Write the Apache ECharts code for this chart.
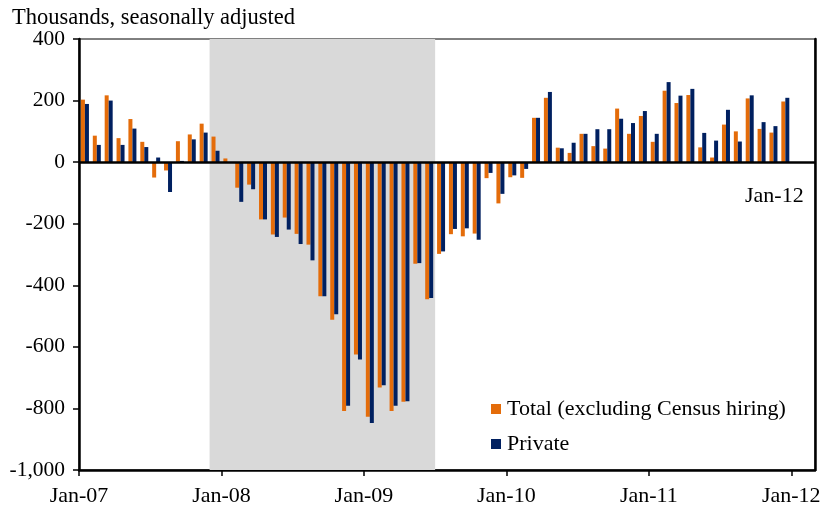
<!DOCTYPE html>
<html>
<head>
<meta charset="utf-8">
<script src="https://cdn.jsdelivr.net/npm/echarts@6/dist/echarts.min.js"></script>
<style>
html,body{margin:0;padding:0;background:#fff;}
#chart{width:832px;height:507px;}
</style>
</head>
<body>
<div id="chart"></div>
<script>
// Month categories Jan-07 .. Feb-12 (axis extends two months past last data point)
const monthNames = ['Jan','Feb','Mar','Apr','May','Jun','Jul','Aug','Sep','Oct','Nov','Dec'];
const years = ['07','08','09','10','11','12'];
const categories = [];
years.forEach(function (y) { monthNames.forEach(function (m) { categories.push(m + '-' + y); }); });
categories.length = 62;

// Total nonfarm (excluding Census hiring), thousands, Jan-07 .. Dec-11
const totalValues = [
  203, 86, 217, 78, 140, 66, -50, -27, 68, 90, 125, 83,
  12, -83, -73, -186, -235, -180, -233, -268, -436, -512, -808, -625,
  -827, -732, -808, -778, -330, -445, -298, -234, -241, -232, -52, -134,
  -49, -51, 144, 209, 47, 30, 92, 52, 44, 174, 92, 150,
  66, 232, 192, 218, 48, 15, 122, 100, 207, 108, 96, 197
];
// Private, thousands, Jan-07 .. Dec-11
const privateValues = [
  189, 56, 200, 56, 109, 49, 15, -97, 4, 74, 96, 37,
  -2, -129, -88, -186, -243, -219, -266, -319, -436, -494, -791, -641,
  -847, -725, -791, -777, -328, -441, -290, -217, -215, -252, -35, -103,
  -43, -22, 144, 228, 45, 63, 92, 107, 107, 141, 127, 166,
  92, 260, 216, 238, 95, 70, 170, 67, 217, 130, 117, 209
];
// Recession shading: Dec-07 through Jun-09
const recessionStart = 'Dec-07';
const recessionEnd = 'Jun-09';
const xTickLabels = ['Jan-07', 'Jan-08', 'Jan-09', 'Jan-10', 'Jan-11', 'Jan-12'];

const FONT = 'Liberation Serif';
const chart = echarts.init(document.getElementById('chart'));
const recStartIdx = categories.indexOf(recessionStart);
const recEndIdx = categories.indexOf(recessionEnd) + 1;

chart.setOption({
  animation: false,
  backgroundColor: '#ffffff',
  textStyle: { fontFamily: FONT, color: '#000' },
  title: {
    text: 'Thousands, seasonally adjusted',
    left: 7, top: 2,
    textStyle: { fontFamily: FONT, fontSize: 22.5, fontWeight: 'normal', color: '#000' }
  },
  graphic: [{
    type: 'text', left: 745, top: 185,
    style: { text: 'Jan-12', font: '22px "Liberation Serif"', fill: '#000' }
  }],
  legend: {
    orient: 'vertical', left: 486, top: 393,
    itemWidth: 10, itemHeight: 10, itemGap: 13,
    icon: 'rect',
    data: ['Total (excluding Census hiring)', 'Private'],
    textStyle: { fontFamily: FONT, fontSize: 22, color: '#000', padding: [0, 0, 0, 1] }
  },
  grid: {
    left: 79, right: 17, top: 39, bottom: 36,
    show: true, borderColor: '#000', borderWidth: 1, backgroundColor: 'transparent'
  },
  xAxis: [{
    type: 'category', data: categories, position: 'bottom',
    axisLine: { show: false }, axisTick: { show: false }, axisLabel: { show: false }
  }, {
    type: 'value', min: 0, max: categories.length, interval: 12, position: 'bottom',
    axisLine: { show: true, onZero: false, lineStyle: { color: '#000', width: 2.5 } },
    axisTick: { show: true, length: 6, lineStyle: { color: '#000', width: 1.5 } },
    splitLine: { show: false },
    axisLabel: {
      showMaxLabel: false, margin: 15,
      fontFamily: FONT, fontSize: 22, color: '#000',
      formatter: function (v) { return v % 12 === 0 ? (xTickLabels[v / 12] || '') : ''; }
    }
  }, {
    type: 'value', min: 0, max: categories.length, position: 'top',
    axisLine: { show: false }, axisTick: { show: false }, axisLabel: { show: false },
    splitLine: { show: false }
  }],
  yAxis: [{
    type: 'value', min: -1000, max: 400, interval: 200,
    axisLine: { show: true, lineStyle: { color: '#000', width: 2.5 } },
    axisTick: { show: true, inside: false, length: 6, lineStyle: { color: '#000', width: 1.5 } },
    splitLine: { show: false },
    axisLabel: {
      margin: 14, fontFamily: FONT, fontSize: 21.5, color: '#000',
      formatter: function (v) {
        const s = Math.abs(v).toString().replace(/\B(?=(\d{3})+(?!\d))/g, ',');
        return (v < 0 ? '-' : '') + s;
      }
    }
  }, {
    type: 'value', min: -1000, max: 400, position: 'right',
    axisLine: { show: true, onZero: false, lineStyle: { color: '#000', width: 2.5 } },
    axisTick: { show: false }, axisLabel: { show: false }, splitLine: { show: false }
  }],
  series: [{
    name: 'recession', type: 'line', xAxisIndex: 1, data: [], z: 0, silent: true,
    markArea: {
      silent: true,
      itemStyle: { color: '#D9D9D9' },
      data: [[{ xAxis: recStartIdx }, { xAxis: recEndIdx }]]
    }
  }, {
    name: 'Total (excluding Census hiring)', type: 'bar', xAxisIndex: 0,
    data: totalValues, barWidth: 4, barGap: '0%', z: 3,
    itemStyle: { color: '#E46C0A' },
    markLine: {
      silent: true, symbol: 'none', label: { show: false },
      lineStyle: { color: '#000', width: 2.5, type: 'solid' },
      data: [{ yAxis: 0 }]
    }
  }, {
    name: 'Private', type: 'bar', xAxisIndex: 0,
    data: privateValues, barWidth: 4, barGap: '0%', z: 3,
    itemStyle: { color: '#002060' }
  }]
});
</script>
</body>
</html>
